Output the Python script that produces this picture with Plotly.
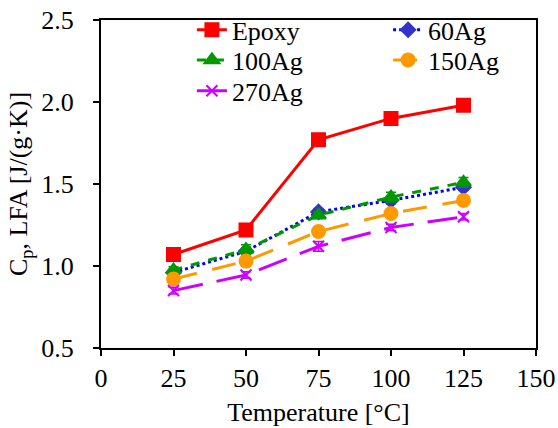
import plotly.graph_objects as go

temps = [25, 50, 75, 100, 125]
epoxy = [1.07, 1.22, 1.77, 1.90, 1.98]
epoxy_err = [0.02, 0.02, 0.03, 0.02, 0.02]
ag60 = [0.96, 1.09, 1.33, 1.40, 1.48]
ag60_err = [0.02, 0.02, 0.02, 0.02, 0.02]
ag100 = [0.975, 1.10, 1.31, 1.42, 1.51]
ag100_err = [0.02, 0.03, 0.02, 0.03, 0.03]
ag150 = [0.92, 1.03, 1.21, 1.32, 1.40]
ag150_err = [0.02, 0.03, 0.03, 0.02, 0.03]
ag270 = [0.85, 0.945, 1.12, 1.235, 1.30]
ag270_err = [0.02, 0.02, 0.03, 0.02, 0.02]

x_ticks = [0, 25, 50, 75, 100, 125, 150]
y_ticks = [0.5, 1.0, 1.5, 2.0, 2.5]

FONT = "Liberation Serif, Times New Roman, serif"
FS = 26

series = [
    ("Epoxy", epoxy, epoxy_err, "#FF0000", "solid", "square", 13, "#FF0000", "legend"),
    ("60Ag", ag60, ag60_err, "#0000FF", "dot", "diamond", 11, "#3333CC", "legend2"),
    ("100Ag", ag100, ag100_err, "#009900", "dash", "triangle-up", 13, "#009900", "legend3"),
    ("150Ag", ag150, ag150_err, "#FF9900", "24px,16px", "circle", 13, "#FF9900", "legend4"),
    ("270Ag", ag270, ag270_err, "#CC00FF", "30px,14px", "x-thin", 11, "#CC00FF", "legend5"),
]

fig = go.Figure()
for name, ys, err, col, dash, sym, size, mcol, leg in series:
    fig.add_trace(go.Scatter(
        x=temps, y=ys, name=name, mode="lines+markers", legend=leg,
        showlegend=True,
        line=dict(color=col, width=3, dash=dash),
        marker=dict(symbol=sym, size=size, color=mcol,
                    line=dict(color=mcol, width=2)),
        error_y=dict(type="data", array=err, visible=True,
                     color=mcol, thickness=1.5, width=5),
    ))

axis_common = dict(showgrid=False, zeroline=False, linecolor="black",
                   linewidth=2, ticks="outside", ticklen=6, tickwidth=2,
                   tickcolor="black", mirror=True, automargin=False,
                   tickfont=dict(family=FONT, size=FS, color="black"))

leg_common = dict(orientation="v", xanchor="left", yanchor="middle",
                  bgcolor="rgba(0,0,0,0)", borderwidth=0,
                  font=dict(family=FONT, size=FS, color="black"))

col1, col2 = 0.209, 0.660
row1, row2, row3 = 0.970, 0.878, 0.784

fig.update_layout(
    width=558, height=428,
    showlegend=True,
    margin=dict(l=101, r=22, t=20, b=80, autoexpand=False),
    paper_bgcolor="white", plot_bgcolor="white",
    font=dict(family=FONT, size=FS, color="black"),
    xaxis=dict(range=[0, 150], tickvals=x_ticks, ticklabelstandoff=0,
               title=dict(text="Temperature [°C]", standoff=11,
                          font=dict(family=FONT, size=FS)),
               **axis_common),
    yaxis=dict(range=[0.5, 2.5], tickvals=y_ticks, tickformat=".1f",
               ticklabelstandoff=14,
               title=dict(text="C<sub>p</sub>, LFA [J/(g·K)]", standoff=6,
                          font=dict(family=FONT, size=FS)),
               **axis_common),
    xaxis2=dict(overlaying="x", anchor="y", range=[0, 150], tickvals=x_ticks,
                showgrid=False, zeroline=False, showline=False,
                showticklabels=False, ticks="inside", ticklen=6,
                tickwidth=2, tickcolor="black", matches="x"),
    yaxis2=dict(overlaying="y", anchor="x", range=[0.5, 2.5], tickvals=y_ticks,
                showgrid=False, zeroline=False, showline=False,
                showticklabels=False, ticks="inside", ticklen=6,
                tickwidth=2, tickcolor="black", matches="y"),
    legend=dict(x=col1, y=row1, **leg_common),
    legend2=dict(x=col2, y=row1, **leg_common),
    legend3=dict(x=col1, y=row2, **leg_common),
    legend4=dict(x=col2, y=row2, **leg_common),
    legend5=dict(x=col1, y=row3, **leg_common),
)

fig.write_html("out.html", config={"displayModeBar": False},
               post_script="document.body.style.margin='0';")
